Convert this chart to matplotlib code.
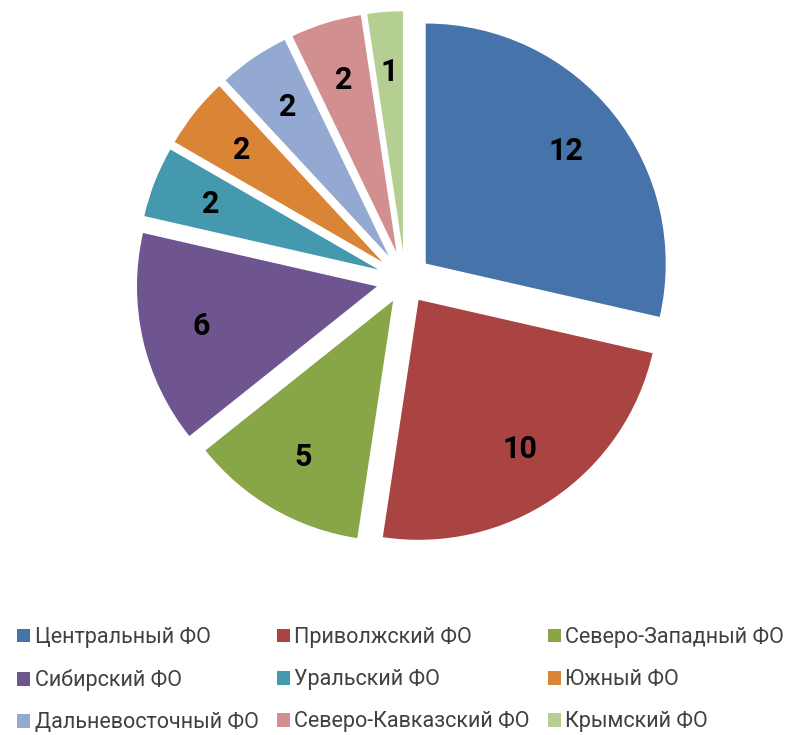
import matplotlib
matplotlib.use('Agg')
import matplotlib.pyplot as plt
from matplotlib.patches import Patch

plt.rcParams['font.family'] = ['Roboto', 'DejaVu Sans']

# federal districts and counts
districts = ['Центральный ФО', 'Приволжский ФО', 'Северо-Западный ФО',
             'Сибирский ФО', 'Уральский ФО', 'Южный ФО',
             'Дальневосточный ФО', 'Северо-Кавказский ФО', 'Крымский ФО']
counts = [12, 10, 5, 6, 2, 2, 2, 2, 1]
colors = ['#4673AA', '#A94442', '#88A548', '#6F558F', '#4499AE',
          '#D98535', '#93A9D2', '#D28F8F', '#B5CF92']
explode = [0.11, 0.1, 0.1, 0.12, 0.12, 0.12, 0.12, 0.12, 0.12]

fig = plt.figure(figsize=(7.89, 7.35), dpi=100)
ax = fig.add_axes([0.1585, 0.2381, 0.7098, 0.7619])

wedges, texts = ax.pie(counts, colors=colors, explode=explode, startangle=90,
                       counterclock=False, labels=[str(c) for c in counts],
                       labeldistance=0.75, radius=1,
                       textprops={'fontsize': 22, 'fontweight': 'bold', 'color': 'black',
                                  'ha': 'center', 'va': 'center'})
ax.set_xlim(-1.1667, 1.1667)
ax.set_ylim(-1.1667, 1.1667)
ax.set_aspect('equal')
ax.axis('off')

# legend row-wise like the original (matplotlib fills columns first)
order = [0, 3, 6, 1, 4, 7, 2, 5, 8]
handles = [Patch(facecolor=colors[i], edgecolor='none') for i in order]
labs = [districts[i] for i in order]
fig.legend(handles, labs, ncol=3, loc='upper left', bbox_to_anchor=(-0.0025, 0.173),
           frameon=False, fontsize=15.5, handlelength=0.6, handleheight=0.6,
           handletextpad=0.2, columnspacing=0.85, labelspacing=0.98,
           labelcolor='#404040')

fig.savefig('out.png', dpi=100)
